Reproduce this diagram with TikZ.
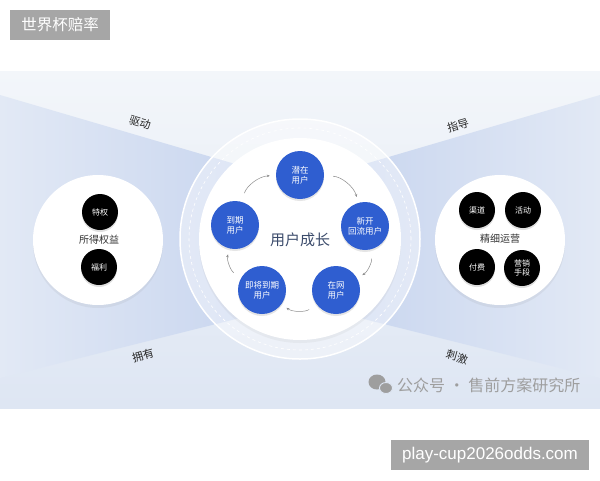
\documentclass[tikz,border=0pt]{standalone}
\usepackage{fontspec}
\setmainfont{Noto Sans CJK SC}
\newfontfamily\urlfont{Liberation Sans}
\usetikzlibrary{shadows,arrows.meta}
\definecolor{bgtop}{HTML}{F3F6FA}
\definecolor{bgbot}{HTML}{DEE6F3}
\definecolor{bandin}{HTML}{C4D2EE}
\definecolor{bandout}{HTML}{E2E9F5}
\definecolor{userblue}{HTML}{2F5ED0}
\definecolor{titleblue}{HTML}{3B4B6B}
\definecolor{tagbox}{HTML}{A6A6A6}
\definecolor{markgray}{HTML}{9E9E9E}
\tikzset{
  usernode/.style={circle, fill=userblue, minimum size=48pt, inner sep=0pt, text=white,
    align=center, font=\fontsize{8.5}{10}\selectfont, drop shadow={opacity=.2, shadow xshift=0pt, shadow yshift=-2pt}},
  perknode/.style={circle, fill=black, minimum size=36pt, inner sep=0pt, text=white,
    align=center, font=\fontsize{8}{9.5}\selectfont, drop shadow={opacity=.25, shadow xshift=0pt, shadow yshift=-2pt}},
  bignode/.style={circle, fill=white, minimum size=130pt, inner sep=0pt,
    drop shadow={opacity=.1, shadow xshift=0pt, shadow yshift=-3pt}},
  flowlabel/.style={font=\fontsize{11}{13}\selectfont, text=black!85},
  cycle/.style={draw=black!45, line width=.5pt, -{Stealth[length=3pt,width=2.5pt]},
    shorten <=9pt, shorten >=6pt, bend left=36}
}
\begin{document}
\begin{tikzpicture}[x=1pt, y=-1pt]
  \useasboundingbox (0,0) rectangle (600,480);
  \fill[white] (0,0) rectangle (600,480);
  \shade[top color=bgtop, bottom color=bgbot] (0,71) rectangle (600,408);
  \shade[left color=bandout, right color=bandin] (0,95) -- (300,183) -- (300,303) -- (0,378) -- cycle;
  \shade[left color=bandin, right color=bandout] (600,95) -- (300,183) -- (300,303) -- (600,378) -- cycle;

  \fill[white, opacity=.4] (300,239) circle (120pt);
  \draw[white, line width=1.5pt] (300,239) circle (120pt);
  \draw[white, dashed, line width=.6pt] (300,239) circle (111pt);
  \node[circle, fill=white, minimum size=202pt, inner sep=0pt,
    drop shadow={opacity=.08, shadow xshift=0pt, shadow yshift=-3pt}] (core) at (300,239) {};
  \node[font=\fontsize{15}{17}\selectfont, text=titleblue] (growth) at (300,240) {用户成长};

  \node[usernode] (potential) at (300,175) {潜在\\用户};
  \node[usernode] (returning) at (365,226) {新开\\回流用户};
  \node[usernode] (online) at (336,290) {在网\\用户};
  \node[usernode] (expiring) at (262,290) {即将到期\\用户};
  \node[usernode] (expired) at (235,225) {到期\\用户};
  \draw[cycle] (potential) to (returning);
  \draw[cycle] (returning) to (online);
  \draw[cycle] (online) to (expiring);
  \draw[cycle] (expiring) to (expired);
  \draw[cycle] (expired) to (potential);

  \node[bignode] (rights) at (98,240) {};
  \node[font=\fontsize{10}{12}\selectfont, text=black!80] (rightslabel) at (99,240) {所得权益};
  \node[perknode] (privilege) at (100,212) {特权};
  \node[perknode] (welfare) at (99,267) {福利};

  \node[bignode] (ops) at (500,240) {};
  \node[font=\fontsize{10}{12}\selectfont, text=black!80] (opslabel) at (500,239) {精细运营};
  \node[perknode] (channel) at (477,210) {渠道};
  \node[perknode] (event) at (523,210) {活动};
  \node[perknode] (paid) at (477,267) {付费};
  \node[perknode] (marketing) at (522,268) {营销\\手段};

  \node[flowlabel, rotate=-16] (drive) at (140,123) {驱动};
  \node[flowlabel, rotate=16] (guide) at (458,125) {指导};
  \node[flowlabel, rotate=16] (own) at (143,355) {拥有};
  \node[flowlabel, rotate=-16] (spur) at (457,357) {刺激};

  \fill[markgray] (377,382) ellipse (8.5pt and 7.5pt);
  \fill[markgray, draw=bgbot, line width=.9pt] (386,388) ellipse (6.5pt and 5.5pt);
  \node[anchor=west, inner sep=0pt, text=markgray, font=\fontsize{16}{18}\selectfont] (mark) at (397,385) {公众号 · 售前方案研究所};

  \fill[tagbox] (10,10) rectangle (110,40);
  \node[text=white, font=\fontsize{15.5}{17}\selectfont] (tag) at (60,25) {世界杯赔率};
  \fill[tagbox] (391,440) rectangle (589,470);
  \node[text=white, font=\urlfont\fontsize{17}{19}\selectfont] (site) at (490,455) {play-cup2026odds.com};
\end{tikzpicture}
\end{document}
